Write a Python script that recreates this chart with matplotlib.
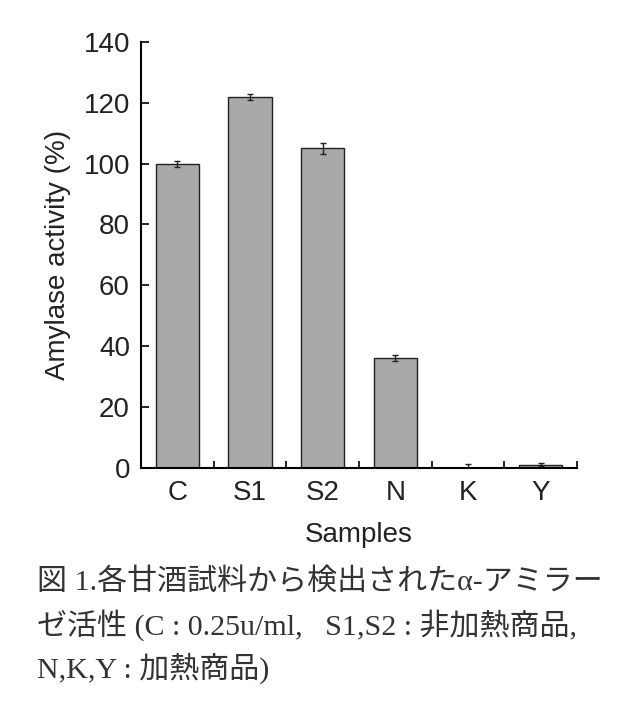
import matplotlib.pyplot as plt

samples = ['C', 'S1', 'S2', 'N', 'K', 'Y']
activity = [100, 122, 105, 36, 0, 1]
errors = [1.0, 1.0, 1.8, 1.0, 1.2, 0.5]

caption = ['図 1.各甘酒試料から検出されたα-アミラー',
           'ゼ活性 (C : 0.25u/ml,   S1,S2 : 非加熱商品,',
           'N,K,Y : 加熱商品)']

plt.rcParams['font.family'] = ['Liberation Sans', 'DejaVu Sans']

fig = plt.figure(figsize=(6.44, 7.08), dpi=100)
ax = fig.add_axes([0.219, 0.339, 0.677, 0.602])

xs = range(len(samples))
ax.bar(xs, activity, width=0.6, color='#a9a9a9', edgecolor='#222222', linewidth=1.0,
       yerr=errors, capsize=2.5, error_kw={'elinewidth': 1.0, 'capthick': 1.0, 'ecolor': '#222222'})

ax.set_xlim(-0.5, len(samples) - 0.5)
ax.set_ylim(0, 140)
ax.set_yticks(range(0, 141, 20))
ax.set_xticks(xs)
ax.set_xticklabels(samples)
ax.set_xticks([i + 0.5 for i in range(len(samples))], minor=True)
ax.tick_params(axis='x', which='major', length=0, labelsize=20, pad=9, labelcolor='#222222')
ax.tick_params(axis='x', which='minor', direction='in', length=5, width=1.2)
ax.tick_params(axis='y', direction='in', length=6, width=1.2, labelsize=20, pad=8,
               labelcolor='#222222')

for side in ['top', 'right']:
    ax.spines[side].set_visible(False)
for side in ['left', 'bottom']:
    ax.spines[side].set_linewidth(1.5)

ax.set_xlabel('Samples', fontsize=20, labelpad=11, color='#222222')
ax.set_ylabel('Amylase activity (%)', fontsize=20, labelpad=9, color='#222222')

cap_font = ['Liberation Serif', 'Noto Sans CJK JP']
for i, line in enumerate(caption):
    fig.text(0.058, 1 - (582 + i * 43) / 708, line, fontsize=21.6, family=cap_font,
             va='center', ha='left', color='#333333')

fig.savefig('out.png', dpi=100)
